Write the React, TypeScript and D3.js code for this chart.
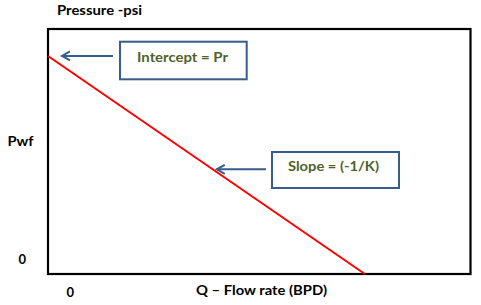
import React from "react";
import * as d3 from "d3";

// Data: straight-line IPR (Pwf vs Q), in percent of axis range
const flowRate = [0, 75];
const pwfValues = [89, 0];
const xDomain = [0, 100];
const yDomain = [0, 100];
const xTickLabels = ["0"];
const yTickLabels = ["0"];
const titleText = "Pressure -psi";
const yAxisText = "Pwf";
const xAxisText = "Q \u2013 Flow rate (BPD)";
const annotationTexts = ["Intercept = Pr", "Slope = (-1/K)"];
// which point on the line each annotation arrow points to (x value in data units)
const annotationTargets = [0, 39];

const W = 481;
const H = 305;
const L = 48, T = 29, R = 470.5, B = 274;
const FONT = "Lato, 'Open Sans', sans-serif";
const TEXT_OLIVE = "#4F6228";
const BLUE = "#385D8A";

export default function App() {
  const x = d3.scaleLinear().domain(xDomain).range([L, R]);
  const y = d3.scaleLinear().domain(yDomain).range([B, T]);
  const pts = flowRate.map((q, i) => [q, pwfValues[i]] as [number, number]);
  const line = d3.line<[number, number]>().x(d => x(d[0])).y(d => y(d[1]));
  const interp = (q: number) => {
    const t = (q - flowRate[0]) / (flowRate[1] - flowRate[0]);
    return pwfValues[0] + t * (pwfValues[1] - pwfValues[0]);
  };

  // annotation layout (box positions)
  const boxes = [
    { x: 120, y: 41.7, w: 126.7, h: 37.6, tx: 137, ty: 61.7, tw: 91, arrowFrom: 113, tipOffset: 14 },
    { x: 272, y: 152, w: 127, h: 36, tx: 288, ty: 170.5, tw: 91, arrowFrom: 266, tipOffset: 4 },
  ];

  return (
    <svg width={W} height={H} style={{ position: "absolute", left: 0, top: 0, background: "#fff" }}>
      <rect x={0} y={0} width={W} height={H} fill="#fff" />
      <text x={57} y={15} fontFamily={FONT} fontWeight="bold" fontSize={14} textLength={85} lengthAdjust="spacingAndGlyphs" fill="#000">{titleText}</text>
      <rect x={L} y={T} width={R - L} height={B - T} fill="none" stroke="#000" strokeWidth={2.2} />
      <path d={line(pts) || ""} fill="none" stroke="#FF0000" strokeWidth={2} />
      <text x={7.5} y={146} fontFamily={FONT} fontWeight="bold" fontSize={14} textLength={26} lengthAdjust="spacingAndGlyphs" fill="#000">{yAxisText}</text>
      {yTickLabels.map((t, i) => (
        <text key={"y" + i} x={18.5} y={y(0) - 9.7} fontFamily={FONT} fontWeight="bold" fontSize={13} fill="#000">{t}</text>
      ))}
      {xTickLabels.map((t, i) => (
        <text key={"x" + i} x={x(0) + 18.5} y={296.7} fontFamily={FONT} fontWeight="bold" fontSize={13} fill="#000">{t}</text>
      ))}
      <text x={196} y={294.7} fontFamily={FONT} fontWeight="bold" fontSize={14} textLength={131} lengthAdjust="spacingAndGlyphs" fill="#000">{xAxisText}</text>
      {annotationTexts.map((txt, i) => {
        const b = boxes[i];
        const q = annotationTargets[i];
        const ay = y(interp(q));
        const tipX = x(q) + b.tipOffset;
        return (
          <g key={i}>
            <rect x={b.x} y={b.y} width={b.w} height={b.h} fill="#fff" stroke={BLUE} strokeWidth={2} />
            <text x={b.tx} y={b.ty} fontFamily={FONT} fontWeight="bold" fontSize={14} textLength={b.tw} lengthAdjust="spacingAndGlyphs" fill={TEXT_OLIVE}>{txt}</text>
            <line x1={b.arrowFrom} y1={ay} x2={tipX} y2={ay} stroke={BLUE} strokeWidth={2} />
            <path d={`M${tipX + 8},${ay - 4.5} L${tipX},${ay} L${tipX + 8},${ay + 4.5}`} fill="none" stroke={BLUE} strokeWidth={2} />
          </g>
        );
      })}
    </svg>
  );
}
